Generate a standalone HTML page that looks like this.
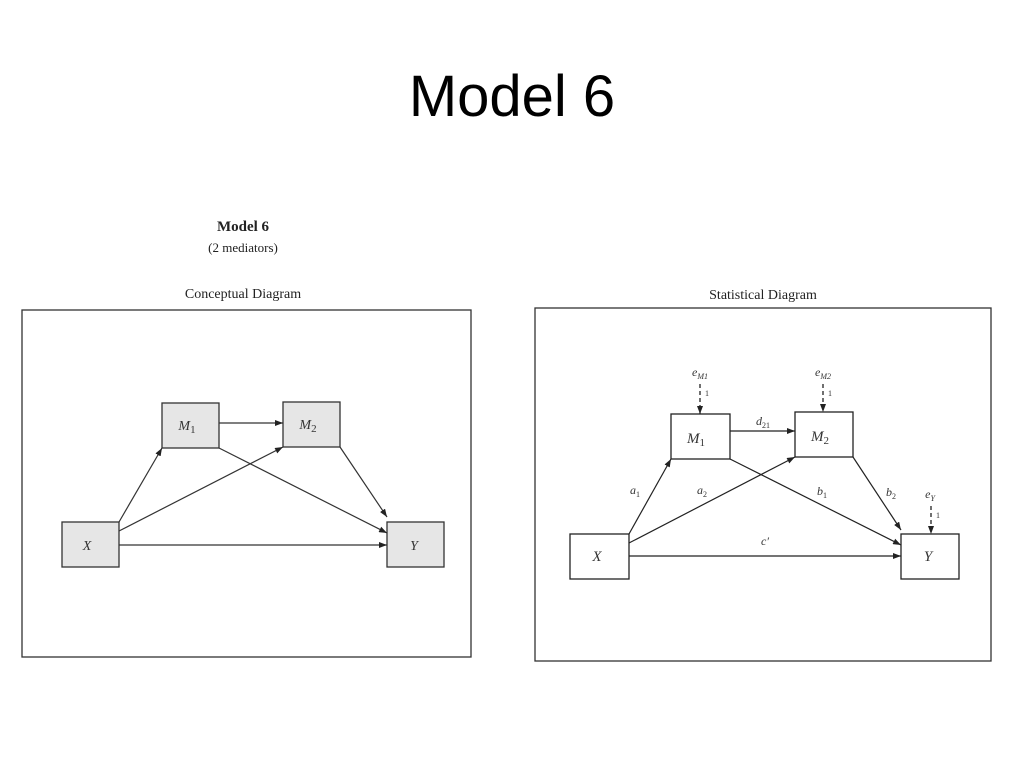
<!DOCTYPE html>
<html><head><meta charset="utf-8"><style>
html,body{margin:0;padding:0;background:#fff;}
svg{display:block}
</style></head><body>
<svg width="1024" height="768" xmlns="http://www.w3.org/2000/svg">
<defs>
<marker id="ah" markerWidth="8" markerHeight="6" refX="8" refY="3" orient="auto" markerUnits="userSpaceOnUse">
<path d="M0,0 L8,3 L0,6 Z" fill="#222"/></marker>
</defs>
<text x="512" y="116" font-family="Liberation Sans, sans-serif" font-size="58" text-anchor="middle" fill="#000">Model 6</text>

<g font-family="Liberation Serif, serif" fill="#222">
<text x="243" y="231" font-size="15" font-weight="bold" text-anchor="middle">Model 6</text>
<text x="243" y="252" font-size="13" text-anchor="middle">(2 mediators)</text>
<text x="243" y="298" font-size="14" text-anchor="middle">Conceptual Diagram</text>
<text x="763" y="299" font-size="14" text-anchor="middle">Statistical Diagram</text>
</g>

<g stroke="#333" stroke-width="1.3" fill="none">
<rect x="22" y="310" width="449" height="347"/>
<rect x="535" y="308" width="456" height="353"/>
</g>

<!-- Conceptual -->
<g stroke="#333" stroke-width="1.3" fill="#e6e6e6">
<rect x="162" y="403" width="57" height="45"/>
<rect x="283" y="402" width="57" height="45"/>
<rect x="62" y="522" width="57" height="45"/>
<rect x="387" y="522" width="57" height="45"/>
</g>
<g stroke="#333" stroke-width="1.2" fill="none" marker-end="url(#ah)">
<line x1="219" y1="423" x2="283" y2="423"/>
<line x1="119" y1="522" x2="162" y2="448"/>
<line x1="119" y1="531" x2="283" y2="447"/>
<line x1="219" y1="448" x2="387" y2="533"/>
<line x1="340" y1="447" x2="387" y2="517"/>
<line x1="119" y1="545" x2="387" y2="545"/>
</g>
<g font-family="Liberation Serif, serif" font-style="italic" font-size="14" fill="#333" text-anchor="middle">
<text x="187" y="430">M<tspan font-style="normal" font-size="11" dy="3">1</tspan></text>
<text x="308" y="429">M<tspan font-style="normal" font-size="11" dy="3">2</tspan></text>
<text x="87" y="550">X</text>
<text x="414" y="550">Y</text>
</g>

<!-- Statistical -->
<g stroke="#222" stroke-width="1.3" fill="#fff">
<rect x="671" y="414" width="59" height="45"/>
<rect x="795" y="412" width="58" height="45"/>
<rect x="570" y="534" width="59" height="45"/>
<rect x="901" y="534" width="58" height="45"/>
</g>
<g stroke="#222" stroke-width="1.2" fill="none" marker-end="url(#ah)">
<line x1="730" y1="431" x2="795" y2="431"/>
<line x1="629" y1="534" x2="671" y2="459"/>
<line x1="629" y1="543" x2="795" y2="457"/>
<line x1="730" y1="459" x2="901" y2="545"/>
<line x1="853" y1="457" x2="901" y2="530"/>
<line x1="629" y1="556" x2="901" y2="556"/>
</g>
<g stroke="#222" stroke-width="1.3" fill="none" stroke-dasharray="4,3" marker-end="url(#ah)">
<line x1="700" y1="384" x2="700" y2="414"/>
<line x1="823" y1="384" x2="823" y2="412"/>
<line x1="931" y1="506" x2="931" y2="534"/>
</g>
<g font-family="Liberation Serif, serif" font-style="italic" fill="#333" text-anchor="middle">
<text x="696" y="443" font-size="15">M<tspan font-style="normal" font-size="11" dy="3">1</tspan></text>
<text x="820" y="441" font-size="15">M<tspan font-style="normal" font-size="11" dy="3">2</tspan></text>
<text x="597" y="561" font-size="15">X</text>
<text x="928" y="561" font-size="15">Y</text>
<text x="700" y="376" font-size="12">e<tspan font-size="8" dy="3">M1</tspan></text>
<text x="823" y="376" font-size="12">e<tspan font-size="8" dy="3">M2</tspan></text>
<text x="930" y="498" font-size="12">e<tspan font-size="8" dy="3">Y</tspan></text>
<text x="763" y="425" font-size="12">d<tspan font-style="normal" font-size="8" dy="3">21</tspan></text>
<text x="635" y="494" font-size="12">a<tspan font-style="normal" font-size="8" dy="3">1</tspan></text>
<text x="702" y="494" font-size="12">a<tspan font-style="normal" font-size="8" dy="3">2</tspan></text>
<text x="822" y="495" font-size="12">b<tspan font-style="normal" font-size="8" dy="3">1</tspan></text>
<text x="891" y="496" font-size="12">b<tspan font-style="normal" font-size="8" dy="3">2</tspan></text>
<text x="765" y="545" font-size="12">c′</text>
</g>
<g font-family="Liberation Serif, serif" font-size="8" fill="#333">
<text x="705" y="396">1</text>
<text x="828" y="396">1</text>
<text x="936" y="518">1</text>
</g>
</svg>
</body></html>
